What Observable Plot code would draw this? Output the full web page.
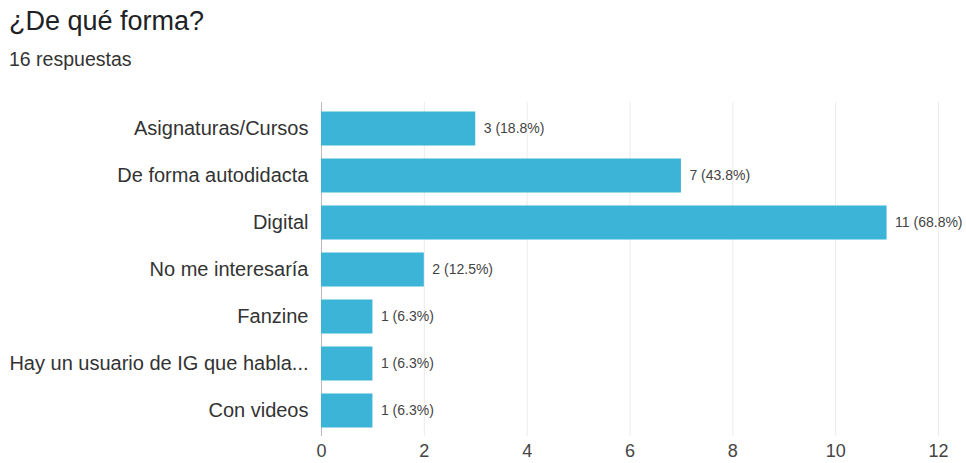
<!DOCTYPE html>
<html><head><meta charset="utf-8">
<script src="https://cdn.jsdelivr.net/npm/d3@7"></script>
<script src="https://cdn.jsdelivr.net/npm/@observablehq/plot@0.6"></script>
<style>
body{margin:0;background:#fff;font-family:"Liberation Sans",Arial,sans-serif;}
#title{position:absolute;left:9px;top:5px;font-size:27px;color:#202124;line-height:32px;}
#sub{position:absolute;left:9px;top:47px;font-size:19.5px;color:#333;line-height:24px;}
#chart{position:absolute;left:0;top:85px;}
</style></head>
<body>
<div id="title">¿De qué forma?</div>
<div id="sub">16 respuestas</div>
<div id="chart"></div>
<script>
const categories = ["Asignaturas/Cursos","De forma autodidacta","Digital","No me interesaría","Fanzine","Hay un usuario de IG que habla...","Con videos"];
const counts = [3,7,11,2,1,1,1];
const labels = ["3 (18.8%)","7 (43.8%)","11 (68.8%)","2 (12.5%)","1 (6.3%)","1 (6.3%)","1 (6.3%)"];
const xTicks = [0,2,4,6,8,10,12];
const data = categories.map((c,i)=>({cat:c,n:counts[i],label:labels[i]}));
const chart = Plot.plot({
  width:966, height:378,
  marginLeft:321, marginRight:28, marginTop:17, marginBottom:27,
  style:{fontFamily:'"Liberation Sans",Arial,sans-serif', background:"#fff"},
  x:{domain:[0,12], ticks:xTicks, label:null},
  y:{domain:categories, label:null, padding:0},
  marks:[
    Plot.gridX(xTicks.slice(1), {stroke:"#ebebeb", strokeOpacity:1}),
    Plot.ruleX([0], {stroke:"#bbb"}),
    Plot.barX(data, {y:"cat", x:"n", fill:"#3bb4d8", insetTop:6.5, insetBottom:6.5}),
    Plot.text(data, {y:"cat", x:"n", text:"label", dx:8, textAnchor:"start", fontSize:14, fill:"#444"}),
    Plot.axisX({ticks:xTicks, tickSize:0, tickPadding:8, fontSize:18, fill:"#444", label:null}),
    Plot.axisY({tickSize:0, tickPadding:13, fontSize:20, fill:"#333", label:null})
  ]
});
document.getElementById("chart").appendChild(chart);
</script>
</body></html>
